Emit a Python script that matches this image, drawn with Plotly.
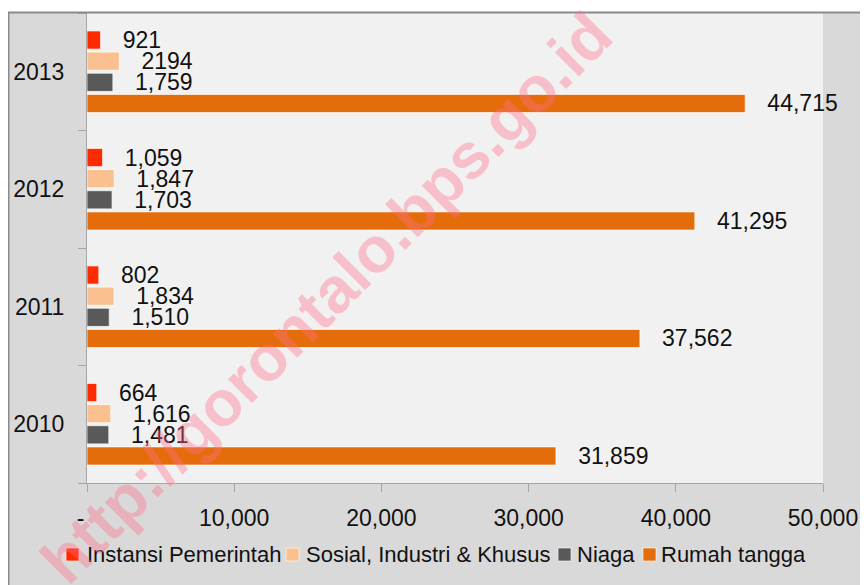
import plotly.graph_objects as go

years = ["2010", "2011", "2012", "2013"]
instansi = [664, 802, 1059, 921]
sosial = [1616, 1834, 1847, 2194]
niaga = [1481, 1510, 1703, 1759]
rumah = [31859, 37562, 41295, 44715]
sosial_labels = ["1,616", "1,834", "1,847", "2194"]

x_tickvals = [0, 10000, 20000, 30000, 40000, 50000]
x_ticktext = ["-\u00a0\u00a0", "10,000", "20,000", "30,000", "40,000", "50,000"]

legend_names = ["Instansi Pemerintah", "Sosial, Industri & Khusus", "Niaga", "Rumah tangga"]
colors = {"Instansi Pemerintah": "#ff2a00", "Sosial, Industri & Khusus": "#fac090",
          "Niaga": "#595959", "Rumah tangga": "#e46c0a"}

FONT = "Liberation Sans, Arial, sans-serif"
FS = 23
FS_LEG = 22
PAD = "\u00a0\u00a0\u00a0"

def fmt(v):
    return PAD + f"{v:,}"

series = [
    ("Rumah tangga", rumah, [fmt(v) for v in rumah]),
    ("Niaga", niaga, [fmt(v) for v in niaga]),
    ("Sosial, Industri & Khusus", sosial, [PAD + s for s in sosial_labels]),
    ("Instansi Pemerintah", instansi, [fmt(v) for v in instansi]),
]

fig = go.Figure()
for name, vals, labels in series:
    fig.add_trace(go.Bar(
        y=years, x=vals, name=name, orientation="h",
        marker=dict(color=colors[name], line=dict(color="rgba(255,255,255,0.7)", width=1)),
        text=labels, textposition="outside", constraintext="none",
        textfont=dict(family=FONT, size=FS, color="#111111"),
        cliponaxis=False, showlegend=False,
    ))

# geometry: the page body adds an 8px offset, so the figure is 8px smaller
OFF = 8
W, H = 868 - OFF, 585 - OFF
L, R, T, B = 87 - OFF, 45, 13 - OFF, 102
pw, ph = W - L - R, H - T - B

def px(xp):  # page pixel -> paper x
    return (xp - OFF - L) / pw

def py(yp):  # page pixel -> paper y
    return (H - B - (yp - OFF)) / ph

shapes = [
    dict(type="rect", xref="paper", yref="paper", x0=px(OFF), x1=px(OFF + W), y0=py(12), y1=py(OFF),
         fillcolor="white", line=dict(width=0), layer="below"),
    dict(type="line", xref="paper", yref="paper", x0=px(OFF), x1=px(OFF + W), y0=py(12.5), y1=py(12.5),
         line=dict(color="#8a8a8a", width=2)),
    dict(type="line", xref="paper", yref="paper", x0=px(8.5), x1=px(8.5), y0=py(OFF + H), y1=py(12),
         line=dict(color="#8a8a8a", width=2)),
]

annotations = []
# legend (drawn manually so that it stays on one row like the reference)
legend_marker_x = [66, 286, 558, 643]
legend_text_x = [85, 304, 575, 659]
LEG_Y = 554
for name, mx, tx in zip(legend_names, legend_marker_x, legend_text_x):
    shapes.append(dict(type="rect", xref="paper", yref="paper",
                       x0=px(mx), x1=px(mx + 13), y0=py(LEG_Y + 7), y1=py(LEG_Y - 6),
                       fillcolor=colors[name], line=dict(color="rgba(255,255,255,0.6)", width=1)))
    annotations.append(dict(text=name, xref="paper", yref="paper", x=px(tx), y=py(LEG_Y),
                            xanchor="left", yanchor="middle", showarrow=False,
                            font=dict(family=FONT, size=FS_LEG, color="#111111")))

annotations.append(dict(
    text="<b>http://gorontalo.bps.go.id</b>", xref="paper", yref="paper",
    x=px(326), y=py(298), xanchor="center", yanchor="middle", showarrow=False, textangle=-45,
    font=dict(family="Liberation Sans, Arial, sans-serif", size=64, color="rgba(255,110,140,0.38)"),
))

fig.update_layout(
    width=W, height=H,
    margin=dict(l=L, r=R, t=T, b=B, autoexpand=False),
    barmode="group", bargap=0.28, bargroupgap=0.14,
    paper_bgcolor="#d9d9d9", plot_bgcolor="#f1f1f1",
    font=dict(family=FONT, size=FS, color="#111111"),
    showlegend=False,
    shapes=shapes,
    annotations=annotations,
)
fig.update_xaxes(
    range=[0, 50000], tickvals=x_tickvals, ticktext=x_ticktext, automargin=False,
    showgrid=False, zeroline=False, showline=True, linecolor="#a6a6a6", linewidth=1,
    ticks="outside", ticklen=8, tickcolor="#a6a6a6", ticklabelstandoff=6,
    tickfont=dict(family=FONT, size=FS, color="#111111"),
)
fig.update_yaxes(
    type="category", categoryorder="array", categoryarray=years, automargin=False,
    showgrid=False, showline=True, linecolor="#a6a6a6", linewidth=1,
    ticks="outside", ticklen=8, tickcolor="#a6a6a6", tickson="boundaries", ticklabelstandoff=17,
    tickfont=dict(family=FONT, size=FS, color="#111111"),
)

fig.write_html("out.html")
